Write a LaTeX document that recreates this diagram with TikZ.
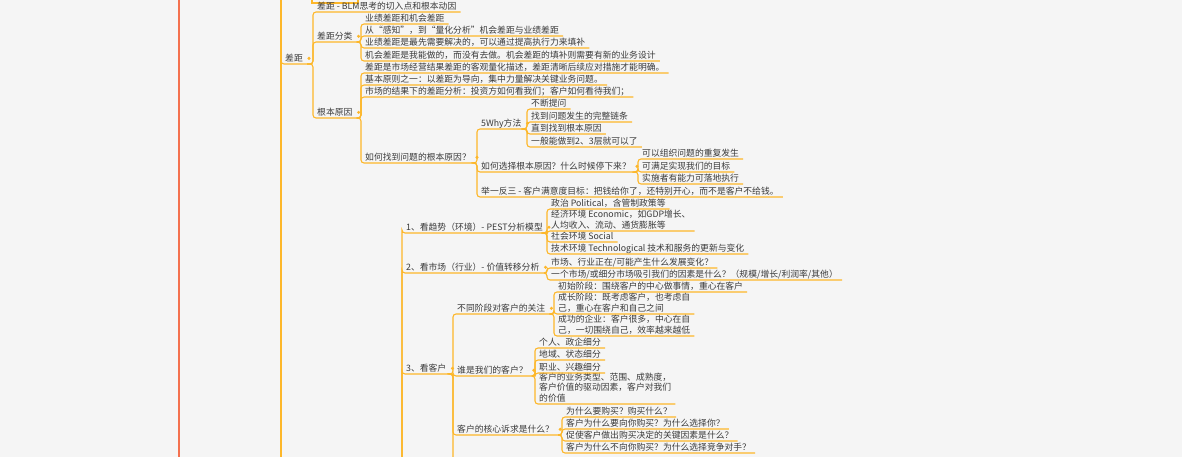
\documentclass[tikz,border=0pt]{standalone}
\usepackage{fontspec}
\setmainfont{Noto Sans CJK SC}
\definecolor{paper}{HTML}{F5F5F5}
\definecolor{ink}{HTML}{3A3A3A}
\definecolor{amber}{HTML}{FDB72A}
\definecolor{coral}{HTML}{F4714F}

\begin{document}
\begin{tikzpicture}[x=1pt,y=-1pt,font=\fontsize{8.8}{10.5}\selectfont,text=ink,
  leaf/.style={anchor=south west,inner xsep=4pt,inner ysep=1pt,
    text depth=1.5pt,align=left},
  link/.style={amber,line width=1.1pt,rounded corners=3pt},
  knob/.style={fill=amber}]
  \fill[paper] (0,0) rectangle (1182,457);
  \useasboundingbox (0,0) rectangle (1182,457);
  \draw[coral,line width=2.2pt] (179,0)--(179,457);

  % trunk and cut-off box above
  \coordinate (t0) at (281,0);
  \coordinate (t1) at (281,457);
  \coordinate (m1) at (402,457);
  \coordinate (q3end) at (453,457);
  \draw[link] (t0)--(t1);
  \draw[amber,line width=1.1pt] (312,-6)|-(358,3)--(358,-6);

  % Gap branch
  \node[leaf] (cj) at (281,64) {差距};
  \node[leaf] (blm) at (313,12) {差距 - BLM思考的切入点和根本动因};
  \node[leaf] (fl) at (313,42) {差距分类};
  \node[leaf] (f1) at (361,24) {业绩差距和机会差距};
  \node[leaf] (f2) at (361,36) {从“感知”，到“量化分析”机会差距与业绩差距};
  \node[leaf] (f3) at (361,48) {业绩差距是最先需要解决的，可以通过提高执行力来填补};
  \node[leaf] (f4) at (361,61) {机会差距是我能做的，而没有去做。机会差距的填补则需要有新的业务设计};
  \node[leaf] (gb) at (313,118) {根本原因};
  \node[leaf] (g1) at (361,73) {差距是市场经营结果差距的客观量化描述，差距清晰后续应对措施才能明确。};
  \node[leaf] (g2) at (361,85) {基本原则之一：以差距为导向，集中力量解决关键业务问题。};
  \node[leaf] (g3) at (361,97) {市场的结果下的差距分析：投资方如何看我们；客户如何看待我们；};
  \node[leaf] (zd) at (361,163) {如何找到问题的根本原因？};
  \node[leaf] (why) at (477,129) {5Why方法};
  \node[leaf] (w1) at (527,109) {不断提问};
  \node[leaf] (w2) at (527,122) {找到问题发生的完整链条};
  \node[leaf] (w3) at (527,134) {直到找到根本原因};
  \node[leaf] (w4) at (527,147) {一般能做到2、3层就可以了};
  \node[leaf] (xz) at (477,172) {如何选择根本原因？什么时候停下来？};
  \node[leaf] (x1) at (638,159) {可以组织问题的重复发生};
  \node[leaf] (x2) at (638,172) {可满足实现我们的目标};
  \node[leaf] (x3) at (638,184) {实施者有能力可落地执行};
  \node[leaf] (jy) at (477,197) {举一反三 - 客户满意度目标：把钱给你了，还特别开心，而不是客户不给钱。};

  % Market insight branch
  \node[leaf] (q1) at (402,233) {1、看趋势（环境）- PEST分析模型};
  \node[leaf] (p1) at (547,209) {政治 Political，含管制政策等};
  \node[leaf] (p2) at (547,231) {经济环境 Economic，如GDP增长、\\人均收入、流动、通货膨胀等};
  \node[leaf] (p3) at (547,242) {社会环境 Social};
  \node[leaf] (p4) at (547,254) {技术环境 Technological 技术和服务的更新与变化};
  \node[leaf] (q2) at (402,273) {2、看市场（行业）- 价值转移分析};
  \node[leaf] (s1) at (547,268) {市场、行业正在/可能产生什么发展变化？};
  \node[leaf] (s2) at (547,280) {一个市场/或细分市场吸引我们的因素是什么？（规模/增长/利润率/其他）};
  \node[leaf] (q3) at (402,374) {3、看客户};
  \node[leaf] (jd) at (453,314) {不同阶段对客户的关注};
  \node[leaf] (j1) at (554,292) {初始阶段：围绕客户的中心做事情，重心在客户};
  \node[leaf] (j2) at (554,314) {成长阶段：既考虑客户，也考虑自\\己，重心在客户和自己之间};
  \node[leaf] (j3) at (554,336) {成功的企业：客户很多，中心在自\\己，一切围绕自己，效率越来越低};
  \node[leaf] (shei) at (453,376) {谁是我们的客户？};
  \node[leaf] (r1) at (535,348) {个人、政企细分};
  \node[leaf] (r2) at (535,360) {地域、状态细分};
  \node[leaf] (r3) at (535,373) {职业、兴趣细分};
  \node[leaf] (r4) at (535,404) {客户的业务类型、范围、成熟度，\\客户价值的驱动因素，客户对我们\\的价值};
  \node[leaf] (sq) at (453,435) {客户的核心诉求是什么？};
  \node[leaf] (k1) at (562,417) {为什么要购买？购买什么？};
  \node[leaf] (k2) at (562,429) {客户为什么要向你购买？为什么选择你？};
  \node[leaf] (k3) at (562,441) {促使客户做出购买决定的关键因素是什么？};
  \node[leaf] (k4) at (562,453) {客户为什么不向你购买？为什么选择竞争对手？};

  % connectors
  \draw[link] (t1) |- (cj.south west) -- (cj.south east);
  \foreach \c in {q1,q2,q3}
    \draw[link] (m1) |- (\c.south west) -- (\c.south east);
  \draw[link] (q3.south east) -| (q3end);
  \foreach \p/\c in {cj/blm,cj/fl,cj/gb,fl/f1,fl/f2,fl/f3,fl/f4,
      gb/g1,gb/g2,gb/g3,gb/zd,zd/why,zd/xz,zd/jy,
      why/w1,why/w2,why/w3,why/w4,xz/x1,xz/x2,xz/x3,
      q1/p1,q1/p2,q1/p3,q1/p4,q2/s1,q2/s2,
      q3/jd,q3/shei,q3/sq,jd/j1,jd/j2,jd/j3,
      shei/r1,shei/r2,shei/r3,shei/r4,sq/k1,sq/k2,sq/k3,sq/k4}
    \draw[link] (\p.south east) -| (\c.south west) -- (\c.south east);
  \foreach \p in {cj,fl,gb,zd,why,xz,q1,q2,q3,jd,shei,sq}
    \fill[knob] ([xshift=2pt]\p.east) circle (1.7pt);
\end{tikzpicture}
\end{document}
